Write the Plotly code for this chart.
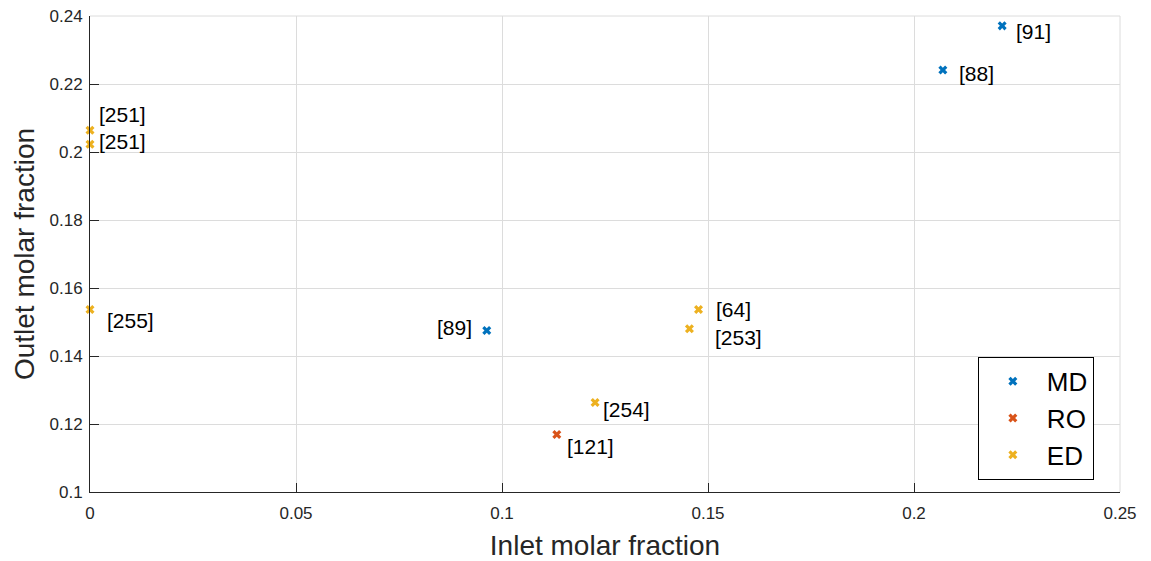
import plotly.graph_objects as go

# Measured inlet / outlet molar fractions by desalination technology
md_x = [0.2214, 0.2070, 0.0963]
md_y = [0.2371, 0.2241, 0.1475]
md_ref = ["[91]", "[88]", "[89]"]

ro_x = [0.1133]
ro_y = [0.1169]
ro_ref = ["[121]"]

ed_x = [0.1226, 0.1477, 0.1455, 0.0, 0.0, 0.0]
ed_y = [0.1263, 0.1537, 0.1480, 0.1537, 0.2064, 0.2023]
ed_ref = ["[254]", "[64]", "[253]", "[255]", "[251]", "[251]"]

# label offsets (px) relative to each marker
md_shift = [(12, -6, "left"), (14, -3, "left"), (-13, 3, "right")]
ro_shift = [(8, -12, "left")]
ed_shift = [(6, -7, "left"), (15, 0, "left"), (24, -9, "left"),
            (15, -11, "left"), (7, 16, "left"), (7, 3, "left")]

x_ticks = [0, 0.05, 0.1, 0.15, 0.2, 0.25]
x_tick_text = ["0", "0.05", "0.1", "0.15", "0.2", "0.25"]
y_ticks = [0.1, 0.12, 0.14, 0.16, 0.18, 0.2, 0.22, 0.24]
y_tick_text = ["0.1", "0.12", "0.14", "0.16", "0.18", "0.2", "0.22", "0.24"]

colors = {"MD": "#0072BD", "RO": "#D95319", "ED": "#EDB120"}
FONT = "Liberation Sans, Arial, sans-serif"
TXT = "#262626"

fig = go.Figure()
groups = [("MD", md_x, md_y, md_ref, md_shift),
          ("RO", ro_x, ro_y, ro_ref, ro_shift),
          ("ED", ed_x, ed_y, ed_ref, ed_shift)]

for name, xs, ys, refs, shifts in groups:
    fig.add_trace(go.Scatter(
        x=xs, y=ys, mode="markers", name=name,
        marker=dict(symbol="x", size=8, color=colors[name], line=dict(width=0)),
        cliponaxis=False,
    ))
    for x, y, r, (dx, dy, anchor) in zip(xs, ys, refs, shifts):
        fig.add_annotation(x=x, y=y, text=r, showarrow=False,
                           xanchor=anchor, yanchor="middle",
                           xshift=dx, yshift=dy,
                           font=dict(family=FONT, size=21, color="#000000"))

# light frame on the top and right edges, matching the grid
for x0, y0, x1, y1 in [(0, 1, 1, 1), (1, 0, 1, 1)]:
    fig.add_shape(type="line", xref="paper", yref="paper",
                  x0=x0, y0=y0, x1=x1, y1=y1,
                  line=dict(color="#dcdcdc", width=1), layer="below")

axis_common = dict(
    showgrid=True, gridcolor="#dcdcdc", gridwidth=1,
    zeroline=False, showline=True, linecolor=TXT, linewidth=1,
    ticks="inside", ticklen=9, tickcolor=TXT, automargin=False,
    tickfont=dict(family=FONT, size=17, color=TXT),
)

fig.update_xaxes(range=[0, 0.25], tickvals=x_ticks, ticktext=x_tick_text,
                 ticklabelstandoff=6,
                 title=dict(text="Inlet molar fraction", standoff=16,
                            font=dict(family=FONT, size=28, color=TXT)),
                 **axis_common)
fig.update_yaxes(range=[0.1, 0.24], tickvals=y_ticks, ticktext=y_tick_text,
                 ticklabelstandoff=3,
                 title=dict(text="Outlet molar fraction", standoff=6,
                            font=dict(family=FONT, size=28, color=TXT)),
                 **axis_common)

fig.update_layout(
    width=1151, height=561,
    margin=dict(l=90, r=31, t=16, b=69),
    plot_bgcolor="white", paper_bgcolor="white",
    showlegend=True,
    legend=dict(x=0.862, y=0.284, xanchor="left", yanchor="top",
                bgcolor="white", bordercolor="#000000", borderwidth=1,
                font=dict(family=FONT, size=26, color="#000000"),
                itemsizing="trace", itemwidth=58, tracegroupgap=0),
)

fig.write_html("out.html")
